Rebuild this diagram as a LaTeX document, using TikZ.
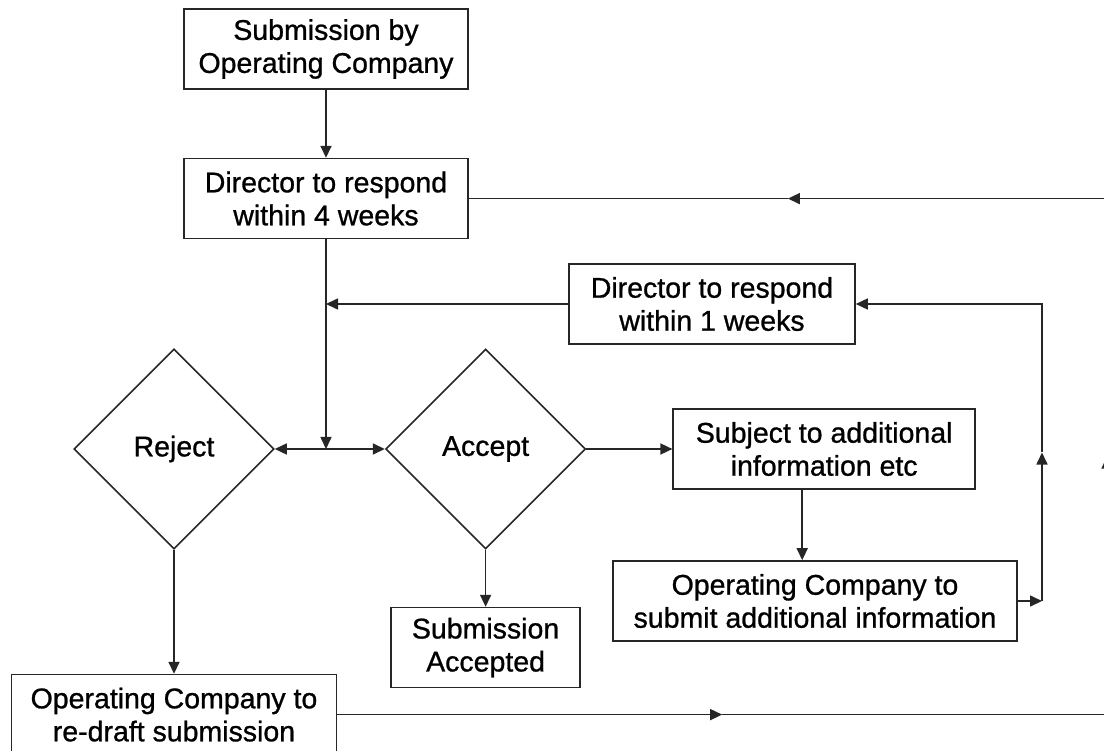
\documentclass[tikz,border=0pt]{standalone}
\usepackage{fontspec}
\setmainfont{Liberation Sans}[UprightFeatures={FakeBold=0.9}]
\usetikzlibrary{positioning,shapes.geometric,arrows.meta,calc}
\tikzstyle{boite}=[rectangle,draw=black!85,minimum width=284pt,minimum height=80pt,inner sep=2pt,align=center,font=\fontsize{28.5pt}{33pt}\selectfont]
\tikzstyle{losange}=[diamond,draw=black!85,minimum width=200pt,minimum height=200pt,inner sep=0pt,font=\fontsize{28.5pt}{33pt}\selectfont]

\begin{document}
\begin{tikzpicture}[x=1pt,y=-1pt,line width=1.6pt,draw=black!85,>={Triangle[length=12pt,width=11pt]}]
\useasboundingbox (0,0) rectangle (1104,751);

\node[boite] (S00) at (326,49) {Submission by\\Operating Company};
\node[boite] (D10) [below=68pt of S00] {Director to respond\\within 4 weeks};
\node[boite,minimum width=286pt] (D21) at (712,304) {Director to respond\\within 1 weeks};
\node[losange] (R30) at (174,449) {Reject};
\node[losange] (A31) [right=110pt of R30] {Accept};
\node[boite,minimum width=302pt] (S32) [right=86pt of A31] {Subject to additional\\information etc};
\node[boite,minimum width=404pt] (O42) at (815,601) {Operating Company to\\submit additional information};
\node[boite,minimum width=189pt] (SA4) [below=57pt of A31] {Submission\\Accepted};
\node[boite,minimum width=325pt] (E50) [below=124pt of R30] {Operating Company to\\re-draft submission};

\coordinate (bord) at (1107,449);
\coordinate (colonne) at (1042,449);
\coordinate (auxE50) at (E50.east -| bord);
\coordinate (auxD10) at (D10.east -| bord);
\coordinate (auxO42) at (O42.east -| colonne);
\coordinate (auxD21) at (D21.east -| colonne);
\coordinate (flecheB) at ($(E50.east)!0.5!(auxE50)$);
\coordinate (flecheD) at ($(auxE50)!0.5!(auxD10)$);
\coordinate (flecheH) at ($(D10.east)!0.5!(auxD10)$);
\coordinate (flecheC) at ($(auxO42)!0.5!(auxD21)$);
\coordinate (jonction) at (D10.south |- R30.east);

\draw[->] (S00.south) to (D10.north);
\draw[->] (D10.south) to (jonction);
\draw[<->] (R30.east) to (A31.west);
\draw[->] (D21.west) to (D21.west -| D10.south);
\draw[->] (A31.east) to (S32.west);
\draw[->] (A31.south) to (SA4.north);
\draw[->] (R30.south) to (E50.north);
\draw[->] ([xshift=-22pt]S32.south) to ([xshift=-22pt]S32.south |- O42.north);

\draw[->] (O42.east) to (auxO42);
\draw[->] (auxO42) to (flecheC);
\draw[->] (flecheC) |- (D21.east);

\draw[->] (E50.east) to (flecheB);
\draw (flecheB) to (auxE50);
\draw[->] (auxE50) to (flecheD);
\draw (flecheD) to (auxD10);
\draw[->] (auxD10) to (flecheH);
\draw (flecheH) to (D10.east);

\end{tikzpicture}
\end{document}
